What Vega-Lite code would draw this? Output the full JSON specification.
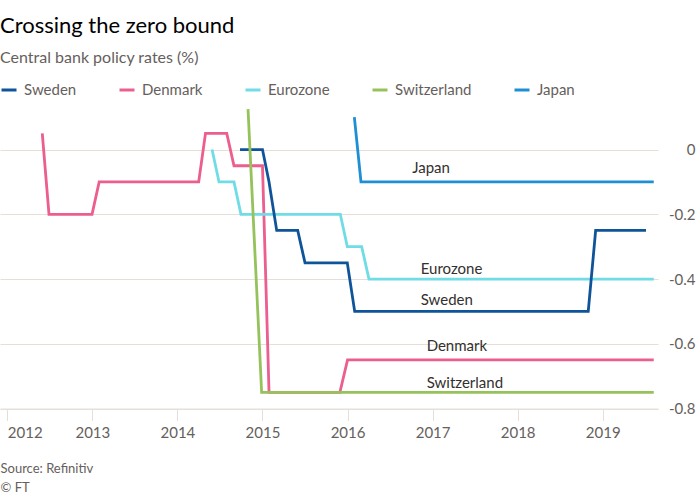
{
  "$schema": "https://vega.github.io/schema/vega-lite/v6.json",
  "autosize": {"type": "none"},
  "padding": {"left": 0, "top": 101, "right": 42, "bottom": 91.5},
  "width": 658,
  "height": 307.5,
  "background": "#ffffff",
  "title": {
    "text": "Crossing the zero bound",
    "subtitle": "Central bank policy rates (%)",
    "anchor": "start",
    "frame": "group",
    "offset": 14,
    "font": "Lato",
    "fontSize": 22,
    "fontWeight": "normal",
    "color": "#000000",
    "subtitleFont": "Lato",
    "subtitleFontSize": 16,
    "subtitleColor": "#66605c",
    "subtitlePadding": 12
  },
  "config": {
    "view": {"stroke": null},
    "font": "Lato",
    "axis": {"labelFont": "Lato", "titleFont": "Lato"},
    "legend": {"labelFont": "Lato"}
  },
  "datasets": {
    "rates": [
      {"country": "Denmark", "year": 2012.411, "rate": 0.05},
      {"country": "Denmark", "year": 2012.49, "rate": -0.2},
      {"country": "Denmark", "year": 2012.996, "rate": -0.2},
      {"country": "Denmark", "year": 2013.08, "rate": -0.1},
      {"country": "Denmark", "year": 2014.25, "rate": -0.1},
      {"country": "Denmark", "year": 2014.33, "rate": 0.05},
      {"country": "Denmark", "year": 2014.58, "rate": 0.05},
      {"country": "Denmark", "year": 2014.665, "rate": -0.05},
      {"country": "Denmark", "year": 2015.0, "rate": -0.05},
      {"country": "Denmark", "year": 2015.077, "rate": -0.75},
      {"country": "Denmark", "year": 2015.91, "rate": -0.75},
      {"country": "Denmark", "year": 2016.0, "rate": -0.65},
      {"country": "Denmark", "year": 2019.6, "rate": -0.65},
      {"country": "Eurozone", "year": 2014.407, "rate": 0},
      {"country": "Eurozone", "year": 2014.489, "rate": -0.1},
      {"country": "Eurozone", "year": 2014.665, "rate": -0.1},
      {"country": "Eurozone", "year": 2014.747, "rate": -0.2},
      {"country": "Eurozone", "year": 2015.915, "rate": -0.2},
      {"country": "Eurozone", "year": 2015.997, "rate": -0.3},
      {"country": "Eurozone", "year": 2016.166, "rate": -0.3},
      {"country": "Eurozone", "year": 2016.252, "rate": -0.4},
      {"country": "Eurozone", "year": 2019.6, "rate": -0.4},
      {"country": "Sweden", "year": 2014.736, "rate": 0},
      {"country": "Sweden", "year": 2015.0, "rate": 0},
      {"country": "Sweden", "year": 2015.077, "rate": -0.1},
      {"country": "Sweden", "year": 2015.167, "rate": -0.25},
      {"country": "Sweden", "year": 2015.414, "rate": -0.25},
      {"country": "Sweden", "year": 2015.5, "rate": -0.35},
      {"country": "Sweden", "year": 2015.997, "rate": -0.35},
      {"country": "Sweden", "year": 2016.084, "rate": -0.5},
      {"country": "Sweden", "year": 2018.83, "rate": -0.5},
      {"country": "Sweden", "year": 2018.917, "rate": -0.25},
      {"country": "Sweden", "year": 2019.509, "rate": -0.25},
      {"country": "Switzerland", "year": 2014.83, "rate": 0.125},
      {"country": "Switzerland", "year": 2014.99, "rate": -0.75},
      {"country": "Switzerland", "year": 2019.6, "rate": -0.75},
      {"country": "Japan", "year": 2016.08, "rate": 0.1},
      {"country": "Japan", "year": 2016.158, "rate": -0.1},
      {"country": "Japan", "year": 2019.6, "rate": -0.1}
    ],
    "labels": [
      {"label": "Japan", "year": 2016.76, "rate": -0.057},
      {"label": "Eurozone", "year": 2016.86, "rate": -0.368},
      {"label": "Sweden", "year": 2016.86, "rate": -0.465},
      {"label": "Denmark", "year": 2016.93, "rate": -0.608},
      {"label": "Switzerland", "year": 2016.93, "rate": -0.721}
    ]
  },
  "layer": [
    {
      "data": {"name": "rates"},
      "mark": {"type": "line", "strokeWidth": 2.8, "clip": false},
      "encoding": {
        "x": {
          "field": "year",
          "type": "quantitative",
          "scale": {"domain": [2011.914, 2019.65], "nice": false, "zero": false},
          "axis": {
            "values": [2012, 2013, 2014, 2015, 2016, 2017, 2018, 2019],
            "format": "d",
            "grid": false,
            "domainColor": "#e6dfd9",
            "domainWidth": 1,
            "tickColor": "#e6dfd9",
            "tickSize": 12,
            "tickWidth": 1,
            "labelFontSize": 15,
            "labelColor": "#66605c",
            "labelPadding": 5,
            "labelAlign": {"expr": "datum.value == 2012 ? 'left' : 'center'"},
            "title": ["Source: Refinitiv", "© FT"],
            "titleAnchor": "start",
            "titleAlign": "left",
            "titleFontSize": 13,
            "titleFontWeight": "normal",
            "titleColor": "#66605c",
            "titleLineHeight": 19,
            "titlePadding": 22
          }
        },
        "y": {
          "field": "rate",
          "type": "quantitative",
          "scale": {"domain": [-0.8, 0.15], "nice": false, "zero": false},
          "axis": {
            "orient": "right",
            "values": [-0.8, -0.6, -0.4, -0.2, 0],
            "labelExpr": "'' + datum.value",
            "domain": false,
            "ticks": false,
            "grid": true,
            "gridColor": "#e6dfd9",
            "gridWidth": 1,
            "labelFontSize": 15,
            "labelColor": "#66605c",
            "labelAlign": "right",
            "labelBaseline": "middle",
            "labelPadding": 37,
            "title": null
          }
        },
        "color": {
          "field": "country",
          "type": "nominal",
          "scale": {
            "domain": ["Sweden", "Denmark", "Eurozone", "Switzerland", "Japan"],
            "range": ["#0f5499", "#eb5e8d", "#70dce6", "#96c25c", "#1e8fd5"]
          },
          "legend": {
            "title": null,
            "orient": "top",
            "direction": "horizontal",
            "offset": 3,
            "symbolType": "stroke",
            "symbolSize": 225,
            "symbolStrokeWidth": 3,
            "labelFontSize": 15,
            "labelColor": "#66605c",
            "labelOffset": 6,
            "columnPadding": 36,
            "padding": 0
          }
        }
      }
    },
    {
      "data": {"name": "labels"},
      "mark": {"type": "text", "align": "left", "baseline": "middle", "fontSize": 15, "color": "#33302e"},
      "encoding": {
        "x": {"field": "year", "type": "quantitative"},
        "y": {"field": "rate", "type": "quantitative"},
        "text": {"field": "label"}
      }
    }
  ]
}
